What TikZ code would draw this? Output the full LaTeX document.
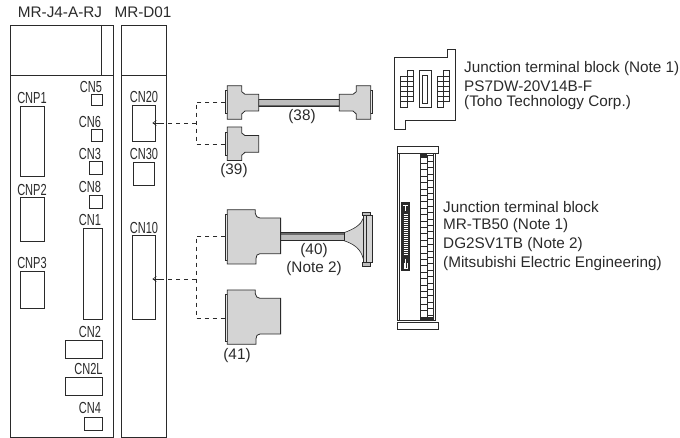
\documentclass[tikz,border=0pt]{standalone}
\usepackage{fontspec,xcolor}
\usetikzlibrary{arrows.meta}
\setmainfont{Liberation Sans}
\newfontfamily\cnfont[FakeStretch=0.69]{Liberation Sans}
\definecolor{Ink}{HTML}{2A2A2A}
\definecolor{Plug}{HTML}{D4D4D4}
\definecolor{Cable}{HTML}{BDBDBD}
\tikzset{
  port/.style={draw=Ink,line width=.7pt,inner sep=0pt,rectangle},
  portname/.style={font=\cnfont\fontsize{16}{16}\selectfont,text=Ink,inner sep=0pt},
  partname/.style={font=\fontsize{15.3}{15.3}\selectfont,text=Ink,inner sep=0pt},
  unit/.style={draw=Ink,line width=.8pt},
  plugbody/.style={fill=Plug,draw=Ink,line width=.8pt},
  dashline/.style={draw=Ink,line width=.7pt,dash pattern=on 4.5pt off 3.5pt},
  tipline/.style={draw=Ink,line width=.6pt,-{Straight Barb[length=3.5pt,width=5pt]}},
  pics/smallplug/.style={code={
    \filldraw[fill=white,draw=Ink,line width=.6pt] (-2,5) rectangle (0,28);
    \filldraw[plugbody] (0,0)--(14.4,0)--(14.4,6)--(17.7,8.6)--(31.4,8.6)--(31.4,25.3)--(17.7,25.3)--(14.4,28.3)--(14.4,33.6)--(0,33.6)--cycle;
  }},
  pics/bigplug/.style={code={
    \filldraw[fill=white,draw=Ink,line width=.6pt] (-2,4.3) rectangle (0,51);
    \filldraw[plugbody] (0,0)--(28,0)--(28,3.7) .. controls (28.5,6.5) and (30,8.3) .. (32.7,8.3)--(53.3,8.3)--(53.3,44)--(32.7,44) .. controls (30,44) and (28.7,46) .. (28.7,48.7)--(28.7,54.3)--(0,54.3)--cycle;
  }}
}
\begin{document}
\begin{tikzpicture}[x=1pt,y=-1pt]
\useasboundingbox (0,0) rectangle (680,438);
% servo amplifier and option unit
\draw[unit] (10,25) rectangle (113,437);
\draw[unit] (10,75)--(113,75);
\draw[unit] (101,25)--(101,75);
\draw[unit] (121,25) rectangle (166,437);
\draw[unit] (121,75)--(166,75);
\node[partname] (tAmp) at (60,12){MR-J4-A-RJ};
\node[partname] (tUnit) at (143,12){MR-D01};
\foreach \n/\cx/\cy/\w/\h in {CNP1/32/141/24/70,CNP2/32/219/24/44,CNP3/32/289.5/24/37,CN5/96.5/99.5/11/11,CN6/96.5/135/11/12,CN3/95.5/167.5/13/13,CN8/95.5/201.5/13/13,CN1/92.5/273.5/19/91,CN2/83.5/349/37/18,CN2L/83.5/386/37/18,CN4/93/423.5/18/13,CN20/143.5/123/23/36,CN30/143.7/173.5/20.5/23,CN10/143.5/277/23/84}{
  \node[port,minimum width=\w pt,minimum height=\h pt] (\n) at (\cx,\cy){};
}
\foreach \n/\cx/\cy in {CNP1/32/98,CNP2/32/190,CNP3/32/263,CN5/91/87,CN6/90/122,CN3/90/154,CN8/90/187,CN1/90/220,CN2/90/332,CN2L/88.5/369,CN4/90/408,CN20/144/97,CN30/144/154,CN10/144/228}{
  \node[portname] (t\n) at (\cx,\cy){\n};
}
% cables
\filldraw[fill=Cable,draw=Ink,line width=.6pt] (258.7,99) rectangle (339.3,106.3);
\fill[Ink!70] (258.7,105) rectangle (339.3,106.3);
\pic at (227.3,85.7){smallplug};
\pic[xscale=-1] at (370.7,85.7){smallplug};
\pic at (227.3,127){smallplug};
\filldraw[fill=Plug,draw=Ink,line width=.6pt] (344,232.7) .. controls (354,229) and (361,225) .. (363.3,218.3)--(363.3,259) .. controls (361,249) and (354,244) .. (344,240.7)--cycle;
\filldraw[fill=Cable,draw=Ink,line width=.6pt] (280.7,232.7) rectangle (344,240.7);
\fill[Ink!70] (280.7,232.7) rectangle (344,235);
\filldraw[fill=Cable,draw=Ink,line width=.6pt] (362.3,212) rectangle (370.7,215.3);
\filldraw[fill=Cable,draw=Ink,line width=.6pt] (362.3,262) rectangle (370.7,266.3);
\filldraw[fill=Plug,draw=Ink,line width=.6pt] (363.3,215.3) rectangle (372.7,262);
\draw[Ink,line width=.6pt] (366.7,215.3)--(366.7,262);
\pic at (227.3,209.7){bigplug};
\pic at (227.3,290){bigplug};
\node[partname] (t38) at (302,117){(38)};
\node[partname] (t39) at (234,171){(39)};
\node[partname] (t40) at (314,251){(40)};
\node[partname] (tNote) at (314,269){(Note 2)};
\node[partname] (t41) at (237,356){(41)};
% dashed connectors
\coordinate (j20) at (196,123);
\coordinate (p38) at (225.3,102);
\coordinate (p39) at (225.3,144);
\draw[dashline] (j20)--([xshift=4pt]CN20.east);
\draw[tipline] ([xshift=5pt]CN20.east)--([xshift=-3pt]CN20.east);
\draw[dashline] (p38)--(p38-|j20)--(p39-|j20)--(p39);
\coordinate (j10) at (196,279);
\coordinate (p40) at (225.3,236);
\coordinate (p41) at (225.3,318);
\draw[dashline] (j10)--([xshift=4pt]CN10.east|-j10);
\draw[tipline] ([xshift=5pt]CN10.east|-j10)--([xshift=-3pt]CN10.east|-j10);
\draw[dashline] (p40)--(p40-|j10)--(p41-|j10)--(p41);
% small terminal block
\draw[Ink,line width=.8pt] (394.7,57.3)--(447.3,57.3)--(447.3,49)--(455.7,49)--(455.7,120.7)--(405.3,120.7)--(405.3,129.3)--(394.7,129.3)--cycle;
\draw[Ink,line width=.7pt] (419,70.7) rectangle (431.7,107.3);
\draw[Ink,line width=.7pt] (422.7,75) rectangle (427.7,103.3);
\foreach \x in {400.7,437.3}{
  \foreach \r in {0,1,2,3,4}{
    \draw[Ink,line width=.7pt] (\x,76.7+5*\r) rectangle ++(6.2,5);
    \draw[Ink,line width=.7pt] (\x+6.2,76.7+5*\r) rectangle ++(6.2,5);
  }
  \draw[Ink,line width=.7pt] (\x+6.2,70.7) rectangle ++(6.2,6);
  \draw[Ink,line width=.7pt] (\x,101.7) rectangle ++(6.2,5.6);
}
\node[partname,anchor=west] (tBlockA) at (464,69){Junction terminal block (Note 1)};
\node[partname,anchor=west] (tBlockB) at (464,86){PS7DW-20V14B-F};
\node[partname,anchor=west] (tBlockC) at (464,103){(Toho Technology Corp.)};
% long terminal block
\draw[Ink,line width=.8pt] (397,153) rectangle (435,320);
\draw[Ink,line width=.8pt] (399,153)--(399,320);
\draw[Ink,line width=.8pt] (433.5,153)--(433.5,320);
\foreach \r in {0,...,24}{
  \draw[Ink,line width=.7pt] (420,157+6.4*\r) rectangle ++(7,6.4);
  \draw[Ink,line width=.7pt] (427,155+6.4*\r) rectangle ++(6.5,6.4);
}
\fill[Ink] (419.5,153.3) rectangle (427,157);
\fill[Ink] (419.5,317) rectangle (433.5,320.5);
\fill[Ink] (401,202) rectangle (410,271);
\foreach \r in {0,...,20}{
  \draw[white,line width=.4pt] (403.5,214+2*\r)--(407.5,214+2*\r);
}
\draw[white,line width=.5pt] (403,205.5)--(408,205.5) (405.5,205.5)--(405.5,211);
\draw[white,line width=.5pt] (403.5,268)--(407.5,268) (405.5,259)--(405.5,268) (404,263)--(404,268) (407,263)--(407,268);
\filldraw[fill=white,draw=Ink,line width=.8pt] (397,146) rectangle (438,153);
\filldraw[fill=white,draw=Ink,line width=.8pt] (397,322) rectangle (438,329);
\node[partname,anchor=west] (tBlockD) at (443,207){Junction terminal block};
\node[partname,anchor=west] (tBlockE) at (443,226){MR-TB50 (Note 1)};
\node[partname,anchor=west] (tBlockF) at (443,245){DG2SV1TB (Note 2)};
\node[partname,anchor=west] (tBlockG) at (443,264){(Mitsubishi Electric Engineering)};
\end{tikzpicture}
\end{document}
